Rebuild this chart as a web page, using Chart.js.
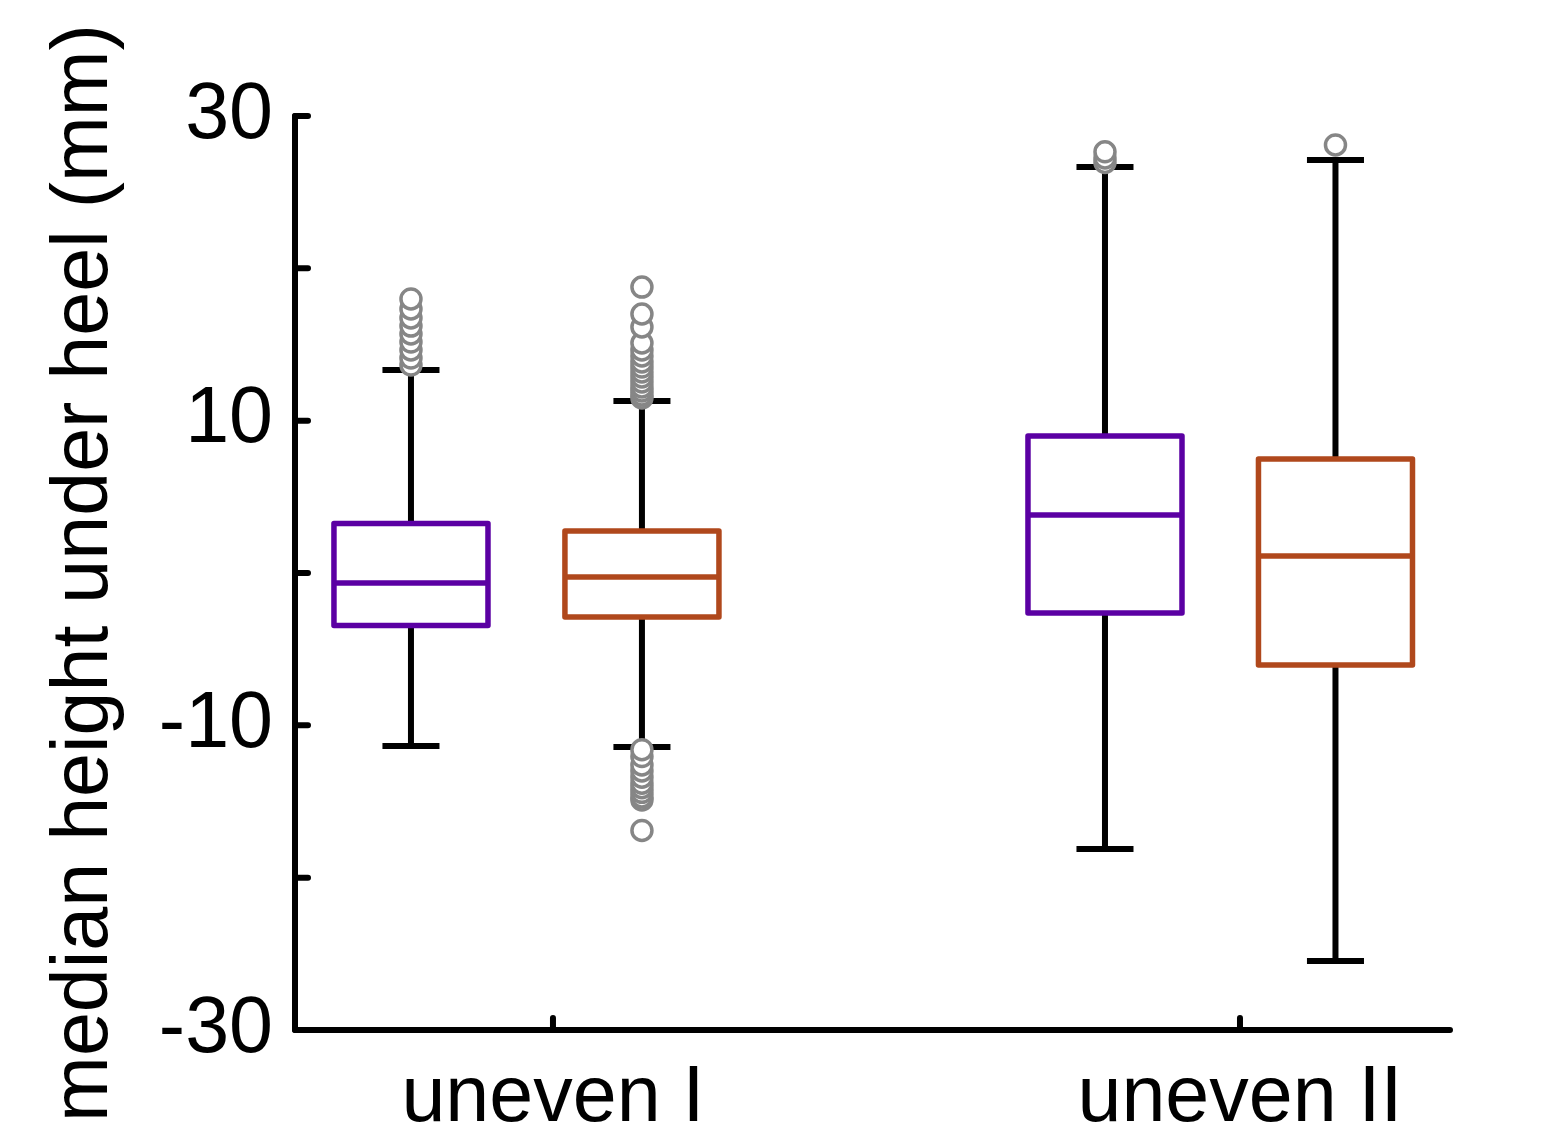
<!DOCTYPE html>
<html>
<head>
<meta charset="utf-8">
<title>median height under heel</title>
<script src="https://cdn.jsdelivr.net/npm/chart.js@4/dist/chart.umd.min.js"></script>
<style>
  html, body { margin: 0; padding: 0; background: #ffffff; }
  #wrap { width: 1543px; height: 1139px; }
</style>
</head>
<body>
<div id="wrap"><canvas id="chart" width="1543" height="1139"></canvas></div>
<script>
// ---- data (mm) ----
const categories = ['uneven I', 'uneven II'];
const seriesNames = ['series 1', 'series 2'];

// statistics indexed [category][series]
const whiskerLow  = [[-11.36, -11.42], [-18.12, -25.47]];
const quartile1   = [[-3.45,  -2.89],  [-2.63,  -6.04]];
const medians     = [[-0.66,  -0.26],  [3.81,    1.12]];
const quartile3   = [[3.25,    2.76],  [8.99,    7.48]];
const whiskerHigh = [[13.33,  11.29],  [26.65,  27.11]];

// points beyond the whiskers
const outliersS1CatI  = [13.65, 14.11, 14.64, 15.16, 15.69, 16.21, 16.74, 17.33, 17.99];
const outliersS2CatI  = [-16.9, -14.9, -14.7, -14.4, -14.1, -13.8, -13.4, -13.0, -12.6, -12.05, -11.6,
                         11.49, 11.69, 11.95, 12.21, 12.54, 12.87, 13.2, 13.52, 13.85, 14.25, 14.64, 15.1, 16.15, 17.0, 18.77];
const outliersS1CatII = [26.95, 27.25, 27.65];
const outliersS2CatII = [28.1];
const outlierSets = [[outliersS1CatI, outliersS2CatI], [outliersS1CatII, outliersS2CatII]];

// y-axis ticks
const yTickValues = [-30, -20, -10, 0, 10, 20, 30];
const yTickLabels = ['-30', '', '-10', '', '10', '', '30'];

// ---- layout / style ----
const categoryPos = [1, 2];
const seriesOffset = [[-0.2067, 0.1295], [-0.1965, 0.1390]];
const boxWidth = 0.2242;
const capWidth = 0.083;
const seriesColors = ['#5b00a3', '#b0481c'];
const FONT = "'Liberation Sans', Arial, Helvetica, sans-serif";

Chart.defaults.font.family = FONT;
Chart.defaults.color = '#000000';

const datasets = [];
categories.forEach((cat, c) => {
  seriesNames.forEach((name, s) => {
    const x = categoryPos[c] + seriesOffset[c][s];
    const pts = outlierSets[c][s].slice().sort((a, b) => a - b).map(v => ({ x: x, y: v }));
    datasets.push({
      label: name + ' – ' + cat + ' outliers',
      data: pts,
      pointRadius: 10,
      pointHoverRadius: 10,
      pointBorderWidth: 3.5,
      pointBorderColor: '#868686',
      pointBackgroundColor: '#ffffff',
      showLine: false
    });
  });
});

// whiskers, boxes and medians, drawn beneath the outlier points
const boxPlotPlugin = {
  id: 'boxPlot',
  beforeDatasetsDraw(chart) {
    const { ctx, scales: { x: xs, y: ys } } = chart;
    const pxPerUnit = xs.getPixelForValue(1) - xs.getPixelForValue(0);
    const halfBox = boxWidth * pxPerUnit / 2;
    const halfCap = capWidth * pxPerUnit / 2;
    ctx.save();
    categories.forEach((cat, c) => {
      seriesNames.forEach((name, s) => {
        const cx = xs.getPixelForValue(categoryPos[c] + seriesOffset[c][s]);
        const yLo = ys.getPixelForValue(whiskerLow[c][s]);
        const yQ1 = ys.getPixelForValue(quartile1[c][s]);
        const yMed = ys.getPixelForValue(medians[c][s]);
        const yQ3 = ys.getPixelForValue(quartile3[c][s]);
        const yHi = ys.getPixelForValue(whiskerHigh[c][s]);

        // whiskers and caps
        ctx.strokeStyle = '#000000';
        ctx.lineWidth = 6;
        ctx.lineCap = 'butt';
        ctx.beginPath();
        ctx.moveTo(cx, yQ3); ctx.lineTo(cx, yHi);
        ctx.moveTo(cx, yQ1); ctx.lineTo(cx, yLo);
        ctx.moveTo(cx - halfCap, yHi); ctx.lineTo(cx + halfCap, yHi);
        ctx.moveTo(cx - halfCap, yLo); ctx.lineTo(cx + halfCap, yLo);
        ctx.stroke();

        // box
        ctx.fillStyle = '#ffffff';
        ctx.fillRect(cx - halfBox, yQ3, 2 * halfBox, yQ1 - yQ3);
        ctx.strokeStyle = seriesColors[s];
        ctx.lineJoin = 'round';
        ctx.lineWidth = 5.5;
        ctx.strokeRect(cx - halfBox, yQ3, 2 * halfBox, yQ1 - yQ3);

        // median
        ctx.beginPath();
        ctx.moveTo(cx - halfBox, yMed); ctx.lineTo(cx + halfBox, yMed);
        ctx.stroke();
      });
    });
    ctx.restore();
  }
};

// axis lines with inward-pointing tick marks
const axesPlugin = {
  id: 'inwardAxes',
  beforeDatasetsDraw(chart) {
    const { ctx, chartArea: a, scales: { x: xs, y: ys } } = chart;
    ctx.save();
    ctx.strokeStyle = '#000000';
    ctx.lineWidth = 6;
    ctx.lineCap = 'round';
    ctx.lineJoin = 'round';
    ctx.beginPath();
    ctx.moveTo(a.left, a.top);
    ctx.lineTo(a.left, a.bottom);
    ctx.lineTo(a.right, a.bottom);
    ctx.stroke();
    ctx.beginPath();
    yTickValues.forEach(v => {
      const py = ys.getPixelForValue(v);
      ctx.moveTo(a.left, py); ctx.lineTo(a.left + 13, py);
    });
    categoryPos.forEach(v => {
      const px = xs.getPixelForValue(v);
      ctx.moveTo(px, a.bottom); ctx.lineTo(px, a.bottom - 12);
    });
    ctx.stroke();
    ctx.restore();
  }
};

new Chart(document.getElementById('chart'), {
  type: 'scatter',
  data: { datasets },
  options: {
    responsive: false,
    animation: false,
    devicePixelRatio: 1,
    layout: { padding: { top: 116, right: 93, left: 0, bottom: 0 } },
    plugins: { legend: { display: false }, tooltip: { enabled: false } },
    scales: {
      x: {
        type: 'linear',
        min: 0.6245,
        max: 2.3057,
        grid: { display: false },
        border: { display: false },
        afterBuildTicks(scale) { scale.ticks = categoryPos.map(v => ({ value: v })); },
        afterFit(scale) { scale.height = 109; },
        ticks: {
          autoSkip: false,
          maxRotation: 0,
          padding: 14,
          color: '#000000',
          font: { size: 79, family: FONT },
          callback: (value, index) => categories[index]
        }
      },
      y: {
        type: 'linear',
        min: -30,
        max: 30,
        grid: { display: false },
        border: { display: false },
        afterBuildTicks(scale) { scale.ticks = yTickValues.map(v => ({ value: v })); },
        afterFit(scale) { scale.width = 295; },
        ticks: {
          autoSkip: false,
          padding: 14,
          color: '#000000',
          font: { size: 79, family: FONT },
          callback: (value, index) => yTickLabels[index]
        },
        title: {
          display: true,
          text: 'median height under heel (mm)',
          color: '#000000',
          font: { size: 79, family: FONT },
          padding: { top: 38, bottom: 0 }
        }
      }
    }
  },
  plugins: [axesPlugin, boxPlotPlugin]
});
</script>
</body>
</html>
